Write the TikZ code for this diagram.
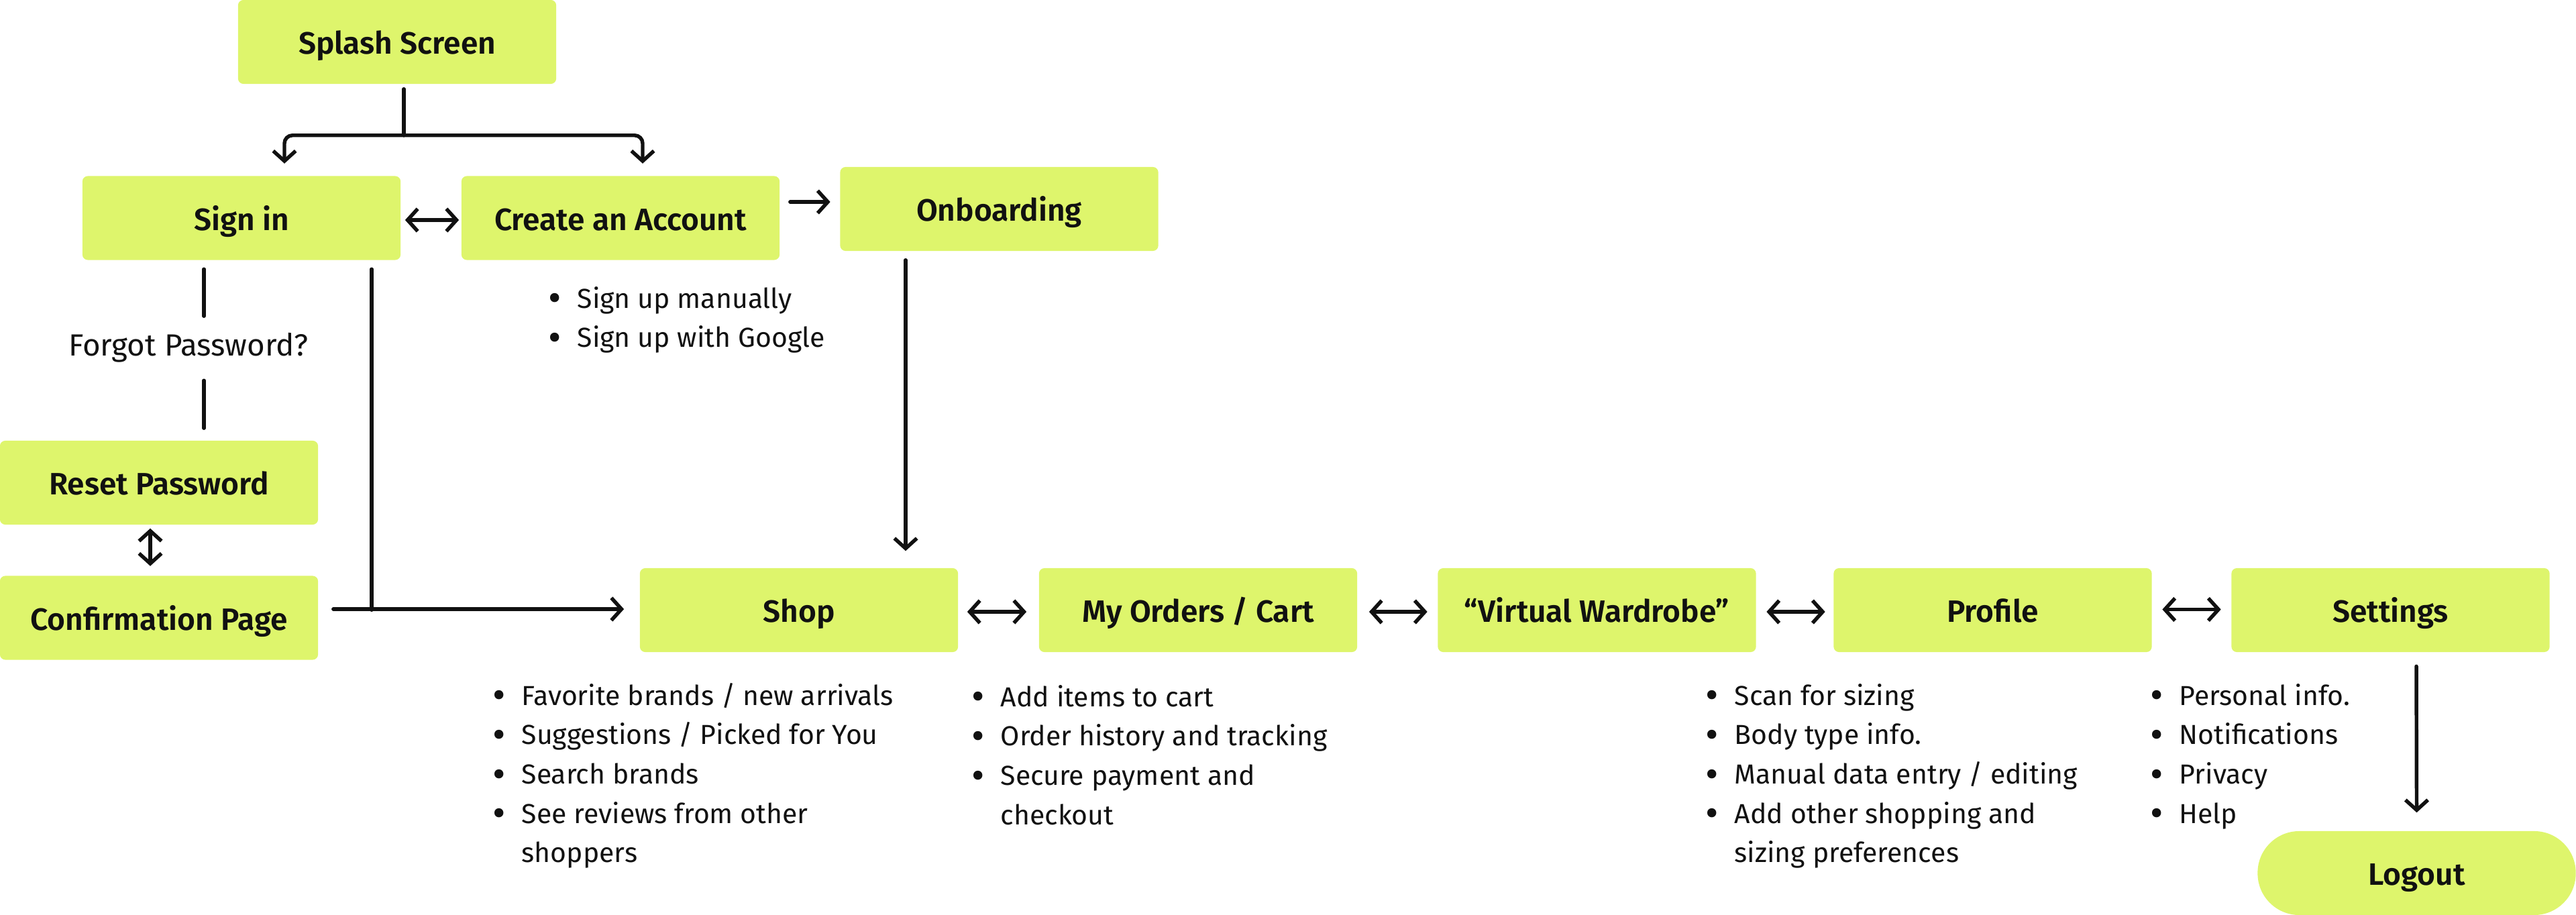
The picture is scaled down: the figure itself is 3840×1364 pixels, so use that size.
\documentclass[tikz,border=0pt]{standalone}
\usepackage{fontspec}
\setmainfont{Fira Sans}
\newfontfamily\labelfont{Fira Sans SemiBold}
\usetikzlibrary{arrows.meta,calc}
\definecolor{boxlime}{RGB}{222,245,108}
\definecolor{ink}{RGB}{17,17,17}
\newcommand\itm[1]{\hbox{\llap{\lower1.6pt\hbox{\fontsize{17pt}{17pt}\selectfont •}\hspace{0.235cm}}#1}}
\newcommand\cnt[1]{\hbox{#1}}
\newcommand\blist[1]{\vtop{\baselineskip=0.587cm\lineskiplimit=-10pt #1}}
\begin{document}
\begin{tikzpicture}[x=0.01cm,y=-0.01cm,
  box/.style={rectangle, rounded corners=0.08cm, fill=boxlime, minimum width=4.74cm,
    minimum height=1.25cm, inner sep=0pt, text=ink, text height=0.36cm, text depth=0pt,
    font=\labelfont\fontsize{13.1pt}{15pt}\selectfont},
  pill/.style={box, rounded corners=0.62cm},
  ln/.style={line width=1.55pt, line cap=round, draw=ink},
  arr/.style={ln, -{Straight Barb[length=4.3pt,width=9.5pt]}},
  darr/.style={ln, {Straight Barb[length=4.3pt,width=9.5pt]}-{Straight Barb[length=4.3pt,width=9.5pt]}},
  lst/.style={anchor=base west, inner sep=0pt, text=ink,
    font=\fontsize{11.65pt}{16.6pt}\selectfont}]
\useasboundingbox (0,0) rectangle (3840,1364);

% boxes
\node[box] (splash)   at (592,62.5)    {Splash Screen};
\node[box] (signin)   at (360,325)     {Sign in};
\node[box] (create)   at (925,325)     {Create an Account};
\node[box] (onboard)  at (1489.5,311.5) {Onboarding};
\node[box] (reset)    at (237,719.5)   {Reset Password};
\node[box] (confirm)  at (237,921)     {Confirmation Page};
\node[box] (shop)     at (1191,909.5)  {Shop};
\node[box] (orders)   at (1786,909.5)  {My Orders / Cart};
\node[box] (wardrobe) at (2380.5,909.5) {“Virtual Wardrobe”};
\node[box] (profile)  at (2970.5,909.5) {Profile};
\node[box] (settings) at (3563.5,909.5) {Settings};
\node[pill] (logout)  at (3602.5,1301.5) {Logout};

% texts
\node[anchor=base, inner sep=0pt, text=ink, font=\fontsize{13pt}{16.6pt}\selectfont] (forgot) at (281,531) {Forgot Password?};
\node[lst] (createl) at (860,459) {\blist{\itm{Sign up manually}\itm{Sign up with Google}}};
\node[lst] (shopl) at (777,1051) {\blist{\itm{Favorite brands / new arrivals}\itm{Suggestions / Picked for You}\itm{Search brands}\itm{See reviews from other}\cnt{shoppers}}};
\node[lst] (ordersl) at (1491,1053) {\blist{\itm{Add items to cart}\itm{Order history and tracking}\itm{Secure payment and}\cnt{checkout}}};
\node[lst] (profilel) at (2585,1051) {\blist{\itm{Scan for sizing}\itm{Body type info.}\itm{Manual data entry / editing}\itm{Add other shopping and}\cnt{sizing preferences}}};
\node[lst] (settingsl) at (3248,1051) {\blist{\itm{Personal info.}\itm{Notifications}\itm{Privacy}\itm{Help}}};

% connectors
\coordinate (j) at ($(splash.south)+(10,76)$);
\coordinate (sa) at ($(signin.north)+(64,-18)$);
\coordinate (ca) at ($(create.north)+(33,-18)$);
\draw[ln] ($(splash.south)+(10,7)$) -- (j);
\draw[arr, rounded corners=0.12cm] (j) -| (sa);
\draw[arr, rounded corners=0.12cm] (j) -| (ca);

\draw[darr] ($(signin.east)+(6,3)$) -- ($(create.west)+(-3,3)$);
\draw[arr] ($(create.east)+(15,-24)$) -- ($(onboard.west)+(-14,-10.5)$);
\draw[arr] ($(onboard.south)+(-139.5,13)$) -- ($(shop.north)+(159,-25)$);

\coordinate (k) at ($(signin.south)+(194,521)$);
\draw[ln] ($(signin.south)+(194,13)$) -- (k);
\draw[arr] ($(confirm.east)+(22,-13)$) -- ($(shop.west)+(-23,-1.5)$);

\draw[ln] ($(signin.south)+(-56,13)$) -- ($(signin.south)+(-56,83)$);
\draw[ln] ($(reset.north)+(67,-89)$) -- ($(reset.north)+(67,-18)$);
\draw[darr] ($(reset.south)+(-13,5)$) -- ($(confirm.north)+(-13,-14)$);

\draw[darr] ($(shop.east)+(13,2.5)$) -- ($(orders.west)+(-18,2.5)$);
\draw[darr] ($(orders.east)+(17,2.5)$) -- ($(wardrobe.west)+(-15,2.5)$);
\draw[darr] ($(wardrobe.east)+(15,2.5)$) -- ($(profile.west)+(-12,2.5)$);
\draw[darr] ($(profile.east)+(15,-1)$) -- ($(settings.west)+(-15,-1)$);
\draw[arr] ($(settings.south)+(38.5,20.5)$) -- ($(logout.north)+(0,-27)$);
\end{tikzpicture}
\end{document}
